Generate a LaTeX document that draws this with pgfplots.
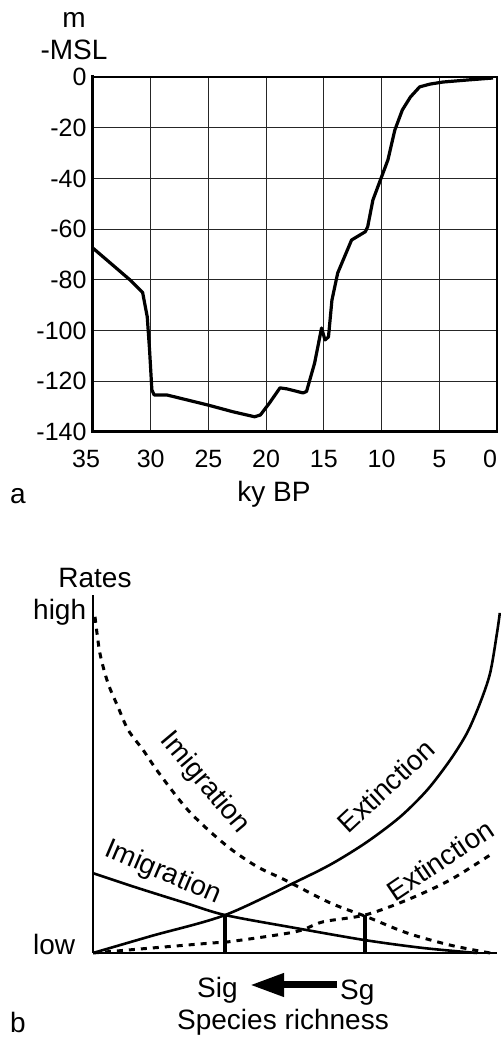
\documentclass[border=0pt]{standalone}
\usepackage{pgfplots}
\pgfplotsset{compat=1.18}
\usepackage{fontspec}
\setmainfont{Liberation Sans}
\usetikzlibrary{arrows.meta}

\newcommand\labelfont{\fontsize{28}{32}\selectfont}

\begin{document}
\begin{tikzpicture}[x=1pt,y=1pt]
\useasboundingbox (0,0) rectangle (500,1040);

% (a) sea level curve
\begin{axis}[
    at={(93pt,608pt)}, anchor=south west,
    scale only axis, width=404pt, height=355pt,
    x dir=reverse,
    xmin=0, xmax=35, ymin=-140, ymax=0,
    xtick={0,5,...,35}, ytick={-140,-120,...,0},
    xticklabels={\makebox[0pt][r]{0},5,10,15,20,25,30,\makebox[0pt][r]{35\kern-7pt}},
    grid=major,
    grid style={black!85, line width=1.1pt},
    axis line style={line width=1.1pt},
    major tick length=0pt,
    tick label style={font=\fontsize{25}{28}\selectfont},
    xticklabel style={anchor=base, yshift=-36pt},
    yticklabel style={xshift=-3pt},
    /pgf/number format/assume math mode=true,
    clip=false,
]
\draw[line width=3pt] (rel axis cs:0,1.006) -- (rel axis cs:0,0) -- (rel axis cs:1,0);
\addplot[black, line width=3.2pt, line join=round] coordinates {
    (35,-67.5)(31.8,-80)(30.7,-85)(30.3,-94.6)(30.1,-107.6)(29.9,-123.4)
    (29.7,-125.4)(28.6,-125.4)(25.1,-129.3)(22.9,-132)(21,-134)(20.5,-133.3)
    (19.7,-128.5)(18.8,-122.6)(18.2,-123)(16.8,-124.6)(16.5,-124)(15.8,-112.8)
    (15.2,-99)(14.9,-103.7)(14.6,-102.5)(14.3,-88)(13.8,-77.3)(12.6,-64.3)
    (11.4,-61)(11.2,-59)(10.75,-48.5)(10.1,-40.6)(9.45,-32.7)(8.85,-20.9)
    (8.2,-13)(7.5,-7.9)(6.7,-3.9)(5.8,-2.8)(4.7,-2)(2.6,-1.2)(0.35,-0.4)
};
\end{axis}

% (b) island biogeography sketch
\begin{axis}[
    at={(93pt,87pt)}, anchor=south west,
    scale only axis, width=404pt, height=358pt,
    xmin=0, xmax=1, ymin=0, ymax=1,
    axis lines=left,
    axis line style={line width=2.2pt, -},
    xtick=\empty, ytick=\empty,
    clip=false,
]
% extinction, solid
\addplot[black, line width=2.6pt, smooth] coordinates {
    (0,0)(0.146,0.048)(0.327,0.106)(0.512,0.204)(0.594,0.251)(0.678,0.310)
    (0.760,0.380)(0.827,0.455)(0.884,0.539)(0.926,0.615)(0.958,0.698)
    (0.983,0.782)(1.000,0.894)(1.007,0.950)
};
% imigration, solid
\addplot[black, line width=2.6pt, smooth] coordinates {
    (0,0.223)(0.104,0.184)(0.228,0.140)(0.327,0.106)(0.500,0.070)
    (0.673,0.036)(0.817,0.014)(0.950,0)
};
% imigration, dashed
\addplot[black, line width=3pt, smooth, dash pattern=on 6pt off 6pt] coordinates {
    (0.005,0.939)(0.017,0.838)(0.037,0.754)(0.062,0.687)(0.087,0.623)
    (0.124,0.567)(0.161,0.506)(0.228,0.408)(0.285,0.344)(0.344,0.288)
    (0.408,0.240)(0.475,0.204)(0.587,0.140)(0.678,0.101)(0.777,0.056)
    (0.884,0.022)(0.983,0)
};
% extinction, dashed
\addplot[black, line width=3pt, smooth, dash pattern=on 6pt off 6pt] coordinates {
    (0,0)(0.146,0.014)(0.295,0.028)(0.334,0.031)(0.500,0.059)(0.569,0.087)
    (0.673,0.106)(0.777,0.148)(0.884,0.204)(0.990,0.279)
};
% equilibria
\addplot[black, line width=3.6pt] coordinates {(0.327,0)(0.327,0.106)};
\addplot[black, line width=3.6pt] coordinates {(0.673,0)(0.673,0.106)};
\end{axis}

\begin{scope}[every node/.style={font=\labelfont, inner sep=0pt}]
\node[anchor=base] at (74,1012) {m};
\node[anchor=base] at (74,980) {-MSL};
\node[anchor=base] at (274,538) {ky BP};
\node[anchor=base] at (18,536) {a};

\node[anchor=base] at (95,452) {Rates};
\node[anchor=base west] at (33,420) {high};
\node[anchor=base west] at (33,85) {low};
\node[anchor=base west] at (197,42) {Sig};
\node[anchor=base west] at (340,40) {Sg};
\node[anchor=base] at (283,10) {Species richness};
\node[anchor=base] at (18,8) {b};

\node[rotate=-50] at (205,257) {Imigration};
\node[rotate=-23] at (163,167) {Imigration};
\node[rotate=43] at (386,254) {Extinction};
\node[rotate=34] at (440,180) {Extinction};
\end{scope}

\draw[line width=7pt, -{Triangle[length=34pt,width=22pt]}] (337,55) -- (250,55);
\end{tikzpicture}
\end{document}
